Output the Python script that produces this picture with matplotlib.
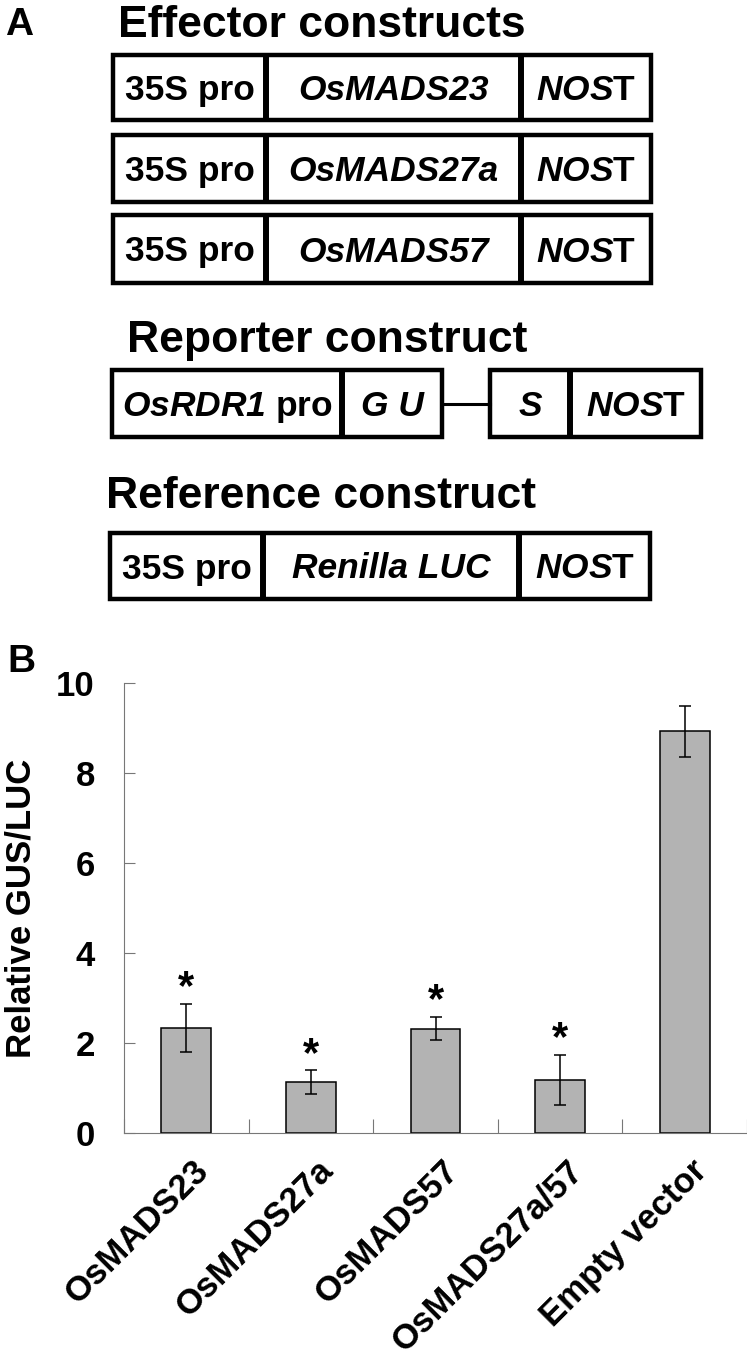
import numpy as np
import matplotlib
matplotlib.use('Agg')
import matplotlib.pyplot as plt
from matplotlib.patches import Rectangle
from matplotlib.transforms import ScaledTranslation

plt.rcParams['font.family'] = ['Liberation Sans', 'DejaVu Sans']
plt.rcParams['mathtext.fontset'] = 'custom'
plt.rcParams['mathtext.it'] = 'Liberation Sans:italic:bold'
plt.rcParams['mathtext.rm'] = 'Liberation Sans:italic:bold'
plt.rcParams['mathtext.bf'] = 'Liberation Sans:bold'

# datos del grafico B
grupos = ['OsMADS23', 'OsMADS27a', 'OsMADS57', 'OsMADS27a/57', 'Empty vector']
medias = [2.33, 1.13, 2.32, 1.18, 8.93]
errores = [0.54, 0.26, 0.26, 0.56, 0.57]
significativo = [True, True, True, True, False]

# textos del panel A
genes_efector = ['OsMADS23', 'OsMADS27a', 'OsMADS57']
nost = r'$\mathrm{NOS}$T'

W, H = 747, 1362
fig = plt.figure(figsize=(W / 100, H / 100), dpi=100)

# panel A en coordenadas de pixel
ax0 = fig.add_axes([0, 0, 1, 1])
ax0.set_xlim(0, W)
ax0.set_ylim(H, 0)
ax0.axis('off')

LW_BOX = 3.2
LW_DIV = 4.3
FS_BOX = 25.5
FS_TIT = 32


def caja(x0, x1, y0, y1, divs):
    ax0.add_patch(Rectangle((x0, y0), x1 - x0, y1 - y0, fill=False,
                            ec='black', lw=LW_BOX, joinstyle='miter'))
    for d in divs:
        ax0.plot([d, d], [y0, y1], color='black', lw=LW_DIV, solid_capstyle='butt')


def texto(x, y0, y1, s, italic=False):
    yc = (y0 + y1) / 2 + 12.5
    ax0.text(x, yc, s, ha='center', va='baseline', fontsize=FS_BOX,
             fontweight='bold', fontstyle='italic' if italic else 'normal')


ax0.text(5, 35, 'A', fontsize=28, fontweight='bold', va='baseline')
ax0.text(118, 37, 'Effector constructs', fontsize=FS_TIT, fontweight='bold', va='baseline')

filas = [(55, 120), (135, 202), (215, 283)]
for gen, (y0, y1) in zip(genes_efector, filas):
    caja(113, 651, y0, y1, [266, 521])
    texto(189.5, y0, y1, '35S pro')
    texto(393.5, y0, y1, gen, italic=True)
    texto(586, y0, y1, nost)

# reporter
ax0.text(127, 352, 'Reporter construct', fontsize=FS_TIT, fontweight='bold', va='baseline')
y0, y1 = 370, 437
caja(112, 442, y0, y1, [342])
caja(490, 701, y0, y1, [570])
ax0.plot([442, 490], [(y0 + y1) / 2, (y0 + y1) / 2], color='black', lw=2.2)
texto(227, y0, y1, r'$\mathrm{OsRDR1}$ pro')
texto(392, y0, y1, 'G U', italic=True)
texto(530, y0, y1, 'S', italic=True)
texto(635.5, y0, y1, nost)

# reference
ax0.text(106, 508, 'Reference construct', fontsize=FS_TIT, fontweight='bold', va='baseline')
y0, y1 = 533, 599
caja(110, 650, y0, y1, [263, 519])
texto(186.5, y0, y1, '35S pro')
texto(391, y0, y1, 'Renilla LUC', italic=True)
texto(584.5, y0, y1, nost)

ax0.text(7, 672, 'B', fontsize=28, fontweight='bold', va='baseline')

# panel B
ax = fig.add_axes([124 / W, (H - 1133) / H, 623 / W, 450 / H])
x = np.arange(len(grupos))
ax.bar(x, medias, width=0.4, color='#b3b3b3', edgecolor='black', linewidth=1.1, zorder=2)
ax.errorbar(x, medias, yerr=errores, fmt='none', ecolor='black', elinewidth=1.1,
            capsize=4, capthick=1.1, zorder=3)
for xi, m, e, s in zip(x, medias, errores, significativo):
    if s:
        ax.text(xi, m + e + 0.35, '*', ha='center', va='center', fontsize=30, fontweight='bold')

ax.set_xlim(-0.5, 4.5)
ax.set_ylim(0, 10)
ax.set_yticks(range(0, 11, 2))
ax.set_yticklabels([str(v) for v in range(0, 11, 2)], fontsize=25, fontweight='bold')
ax.tick_params(axis='y', direction='in', length=8, width=0.8, color='#777777', pad=21)

ax.set_xticks(x)
ax.set_xticklabels(grupos, rotation=45, ha='right', va='top', rotation_mode='anchor',
                   fontsize=25, fontweight='bold')
ax.set_xticks(np.arange(-0.5, 5, 1), minor=True)
ax.tick_params(axis='x', which='major', length=0, pad=15)
ax.tick_params(axis='x', which='minor', direction='in', length=10, width=0.8, color='#777777')
desplaza = ScaledTranslation(6 / 100, 0, fig.dpi_scale_trans)
for lab in ax.get_xticklabels():
    lab.set_transform(lab.get_transform() + desplaza)

for lado in ['top', 'right']:
    ax.spines[lado].set_visible(False)
for lado in ['left', 'bottom']:
    ax.spines[lado].set_color('#777777')
    ax.spines[lado].set_linewidth(0.8)

ax.set_ylabel('Relative GUS/LUC', fontsize=25, fontweight='bold')
ax.yaxis.set_label_coords((37 - 124) / 623, 0.5)

fig.savefig('out.png', dpi=100)
